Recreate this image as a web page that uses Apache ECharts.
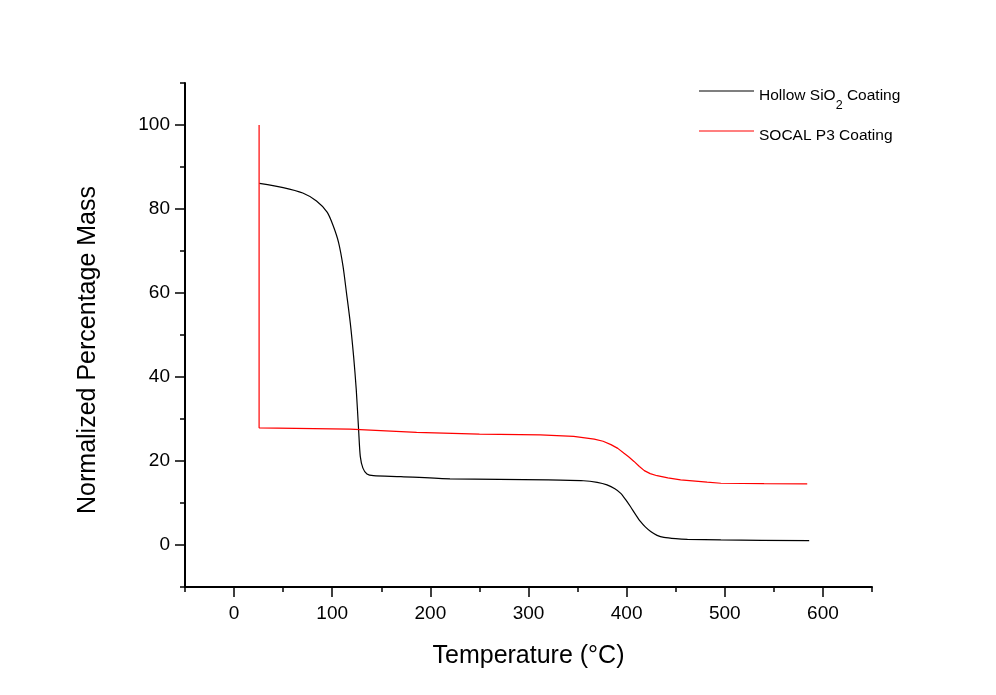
<!DOCTYPE html>
<html>
<head>
<meta charset="utf-8">
<script src="https://cdn.jsdelivr.net/npm/echarts@6/dist/echarts.min.js"></script>
<style>
html,body{margin:0;padding:0;background:#fff;}
#chart{width:996px;height:695px;}
</style>
</head>
<body>
<div id="chart"></div>
<script>
// ---- data ----
const seriesNames = ['Hollow SiO2 Coating', 'SOCAL P3 Coating'];

const hollowTemp = [25.8, 50, 70, 84, 95, 101, 106.5, 111, 114.5, 118.4, 121.8, 124.5, 126.9, 128.6, 131.3, 135.4, 142, 170, 220, 320, 356, 370, 380, 388, 394, 399, 404, 409, 414, 419, 424.5, 431, 438, 450, 462, 496, 586];
const hollowMass = [86.1, 85.1, 83.8, 81.9, 79.2, 76.0, 72.0, 66.4, 60.1, 52.9, 44.9, 37.0, 27.4, 21.1, 18.3, 16.9, 16.5, 16.3, 15.75, 15.5, 15.3, 14.9, 14.3, 13.4, 12.3, 10.8, 9.1, 7.3, 5.6, 4.3, 3.2, 2.3, 1.8, 1.5, 1.35, 1.2, 1.05];

const socalTemp = [25.5, 25.5, 118, 186, 250, 312, 346, 367, 376, 384, 391, 397, 402, 407.5, 413, 418, 424, 431, 442, 455, 482, 496, 540, 584];
const socalMass = [100, 27.9, 27.6, 26.8, 26.4, 26.2, 25.85, 25.2, 24.7, 23.9, 23.0, 21.9, 21.0, 19.9, 18.7, 17.7, 17.0, 16.5, 16.0, 15.5, 14.95, 14.7, 14.6, 14.55];

const xTickLabels = [0, 100, 200, 300, 400, 500, 600];
const yTickLabels = [0, 20, 40, 60, 80, 100];
const xRange = [-50, 650];
const yRange = [-10, 110];

// ---- chart ----
const FONT = "Arial, 'Liberation Sans', sans-serif";
const zip = (a, b) => a.map((v, i) => [v, b[i]]);

const gridL = 185, gridR = 124, gridT = 83, gridB = 108;
const plotW = 996 - gridL - gridR, plotH = 695 - gridT - gridB;
const pxPerX = plotW / (xRange[1] - xRange[0]);
const pxPerY = plotH / (yRange[1] - yRange[0]);
const xOff = (xTickLabels[0] - xRange[0]) * pxPerX;
const xOffR = (xRange[1] - xTickLabels[xTickLabels.length - 1]) * pxPerX;
const yOffB = (yTickLabels[0] - yRange[0]) * pxPerY;
const yOffT = (yRange[1] - yTickLabels[yTickLabels.length - 1]) * pxPerY;

const legendRich = {
  t: {fontFamily: FONT, fontSize: 15.5, color: '#000', lineHeight: 16, verticalAlign: 'top', padding: [5, 0, 0, 0]},
  s: {fontFamily: FONT, fontSize: 12.5, color: '#000', lineHeight: 12, verticalAlign: 'top', padding: [16, 0, 0, 0]},
  u: {fontFamily: FONT, fontSize: 15.5, color: '#000', lineHeight: 16, verticalAlign: 'top', padding: [5, 0, 0, 0]}
};

const chart = echarts.init(document.getElementById('chart'), null, {renderer: 'canvas'});
const option = {
  backgroundColor: '#ffffff',
  animation: false,
  textStyle: {fontFamily: FONT},
  grid: [
    {left: gridL, right: gridR, top: gridT, bottom: gridB},
    {left: gridL + xOff, right: gridR + xOffR, top: gridT + yOffT, bottom: gridB + yOffB}
  ],
  legend: [
    {
      data: [seriesNames[0]], left: 699, top: 83, padding: 0, icon: 'rect',
      itemWidth: 55, itemHeight: 1, itemGap: 0, selectedMode: false,
      formatter: n => {
        const parts = n.split('SiO2');
        return '{t|' + parts[0] + 'SiO}{s|2}{t|' + parts[1] + '}';
      },
      textStyle: {fontFamily: FONT, fontSize: 15.5, color: '#000', rich: legendRich}
    },
    {
      data: [seriesNames[1]], left: 699, top: 123, padding: 0, icon: 'rect',
      itemWidth: 55, itemHeight: 1, itemGap: 0, selectedMode: false,
      formatter: n => '{u|' + n + '}',
      textStyle: {fontFamily: FONT, fontSize: 15.5, color: '#000', rich: legendRich}
    }
  ],
  xAxis: [
    {
      type: 'value', gridIndex: 0, min: xRange[0], max: xRange[1], interval: 50,
      axisLine: {show: true, onZero: false, lineStyle: {color: '#000', width: 2}},
      axisTick: {show: true, inside: false, length: 5, lineStyle: {color: '#000', width: 1.5}},
      axisLabel: {show: false}, splitLine: {show: false},
      name: 'Temperature (°C)', nameLocation: 'middle', nameGap: 57,
      nameTextStyle: {fontFamily: FONT, fontSize: 25, color: '#000'}
    },
    {
      type: 'value', gridIndex: 1, min: xTickLabels[0], max: xTickLabels[xTickLabels.length - 1],
      interval: xTickLabels[1] - xTickLabels[0], offset: yOffB,
      axisLine: {show: false, onZero: false},
      axisTick: {show: true, inside: false, length: 10, lineStyle: {color: '#000', width: 1.5}},
      axisLabel: {show: true, margin: 17, fontFamily: FONT, fontSize: 19, color: '#000'},
      splitLine: {show: false}
    }
  ],
  yAxis: [
    {
      type: 'value', gridIndex: 0, min: yRange[0], max: yRange[1], interval: 10,
      axisLine: {show: true, onZero: false, lineStyle: {color: '#000', width: 2}},
      axisTick: {show: true, inside: false, length: 5, lineStyle: {color: '#000', width: 1.5}},
      axisLabel: {show: false}, splitLine: {show: false},
      name: 'Normalized Percentage Mass', nameLocation: 'middle', nameGap: 84,
      nameTextStyle: {fontFamily: FONT, fontSize: 25, color: '#000', padding: [0, 30, 0, 0]}
    },
    {
      type: 'value', gridIndex: 1, min: yTickLabels[0], max: yTickLabels[yTickLabels.length - 1],
      interval: yTickLabels[1] - yTickLabels[0], offset: xOff,
      axisLine: {show: false, onZero: false},
      axisTick: {show: true, inside: false, length: 10, lineStyle: {color: '#000', width: 1.5}},
      axisLabel: {show: true, margin: 15, fontFamily: FONT, fontSize: 19, color: '#000'},
      splitLine: {show: false}
    }
  ],
  series: [
    {
      name: seriesNames[0], type: 'line', xAxisIndex: 0, yAxisIndex: 0,
      data: zip(hollowTemp, hollowMass), showSymbol: false, symbol: 'none',
      smooth: 0.25,
      lineStyle: {color: '#000', width: 1.2}, itemStyle: {color: '#000'}
    },
    {
      name: seriesNames[1], type: 'line', xAxisIndex: 0, yAxisIndex: 0,
      data: zip(socalTemp, socalMass), showSymbol: false, symbol: 'none',
      lineStyle: {color: '#ff0000', width: 1.2}, itemStyle: {color: '#ff0000'}
    }
  ]
};
chart.setOption(option);
</script>
</body>
</html>
